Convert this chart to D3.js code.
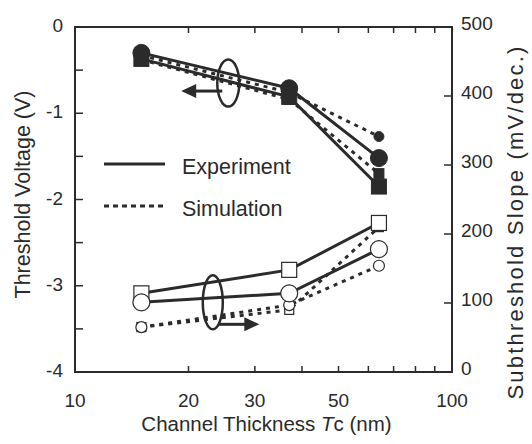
<!DOCTYPE html>
<html><head><meta charset="utf-8">
<script src="https://cdn.jsdelivr.net/npm/d3@7/dist/d3.min.js"></script>
<style>body{margin:0;background:#fff}svg{display:block}text{font-family:"Liberation Sans",Arial,sans-serif;fill:#2a2a2a}</style>
</head><body><div id="chart"></div>
<script>
const thickness = [15, 37, 64];
const vthExpCircle = [-0.30, -0.71, -1.52];
const vthExpSquare = [-0.37, -0.81, -1.85];
const vthSimCircle = [-0.33, -0.76, -1.27];
const vthSimSquare = [-0.38, -0.84, -1.70];
const ssExpSquare = [114, 148, 216];
const ssExpCircle = [101, 114, 178];
const ssSimSquare = [65, 90, 210];
const ssSimCircle = [65, 97, 154];
const xTickLabels = [10, 20, 30, 50, 100];
const xMinorTicks = [20, 30, 40, 50, 60, 70, 80, 90];
const leftTicks = [0, -1, -2, -3, -4];
const leftMinor = [-0.5, -1.5, -2.5, -3.5];
const rightTicks = [0, 100, 200, 300, 400, 500];
const legendItems = ["Experiment", "Simulation"];

const W = 532, H = 444;
const m = {l: 75, r: 80, t: 27, b: 72};
const svg = d3.select("#chart").append("svg").attr("width", W).attr("height", H);
const x = d3.scaleLog().domain([10, 100]).range([m.l, W - m.r]);
const yL = d3.scaleLinear().domain([-4, 0]).range([H - m.b, m.t]);
const yR = d3.scaleLinear().domain([0, 500]).range([H - m.b, m.t]);
const ink = "#2b2b2b";

// frame
svg.append("rect").attr("x", m.l).attr("y", m.t).attr("width", x(100) - m.l).attr("height", yL(-4) - m.t)
  .attr("fill", "none").attr("stroke", ink).attr("stroke-width", 2);

// ticks
const g = svg.append("g").attr("stroke", ink).attr("stroke-width", 1.5);
xMinorTicks.forEach(v => {
  g.append("line").attr("x1", x(v)).attr("x2", x(v)).attr("y1", yL(-4)).attr("y2", yL(-4) - 6);
  g.append("line").attr("x1", x(v)).attr("x2", x(v)).attr("y1", m.t).attr("y2", m.t + 6);
});
leftTicks.concat(leftMinor).forEach(v => {
  g.append("line").attr("x1", m.l).attr("x2", m.l + 8).attr("y1", yL(v)).attr("y2", yL(v));
});
rightTicks.slice(1, 5).forEach(v => {
  g.append("line").attr("x1", x(100)).attr("x2", x(100) - 8).attr("y1", yR(v)).attr("y2", yR(v));
});

// tick labels
xTickLabels.forEach(v => svg.append("text").attr("x", x(v)).attr("y", H - m.b + 35)
  .attr("text-anchor", "middle").attr("font-size", 19).text(v));
leftTicks.forEach(v => svg.append("text").attr("x", m.l - 12).attr("y", yL(v) + 5)
  .attr("text-anchor", "end").attr("font-size", 19).text(v));
rightTicks.forEach(v => svg.append("text").attr("x", x(100) + 9).attr("y", yR(v) + 3)
  .attr("text-anchor", "start").attr("font-size", 19).text(v));

// axis titles
const xt = svg.append("text").attr("x", (m.l + x(100)) / 2 + 3).attr("y", H - 13)
  .attr("text-anchor", "middle").attr("font-size", 20.5);
xt.append("tspan").text("Channel Thickness ");
xt.append("tspan").attr("font-style", "italic").text("T");
xt.append("tspan").text("c  (nm)");
svg.append("text").attr("transform", `translate(30,${(m.t + yL(-4)) / 2 - 5}) rotate(-90)`)
  .attr("text-anchor", "middle").attr("font-size", 21.5).text("Threshold Voltage (V)");
svg.append("text").attr("transform", `translate(523,222) rotate(-90)`)
  .attr("text-anchor", "middle").attr("font-size", 22).attr("letter-spacing", 2.2)
  .text("Subthreshold Slope (mV/dec.)");

// series
function series(vals, ys, dashed) {
  const line = d3.line().x((d, i) => x(thickness[i])).y(d => ys(d));
  svg.append("path").attr("d", line(vals)).attr("fill", "none").attr("stroke", ink)
    .attr("stroke-width", 3).attr("stroke-dasharray", dashed ? "4,5" : null);
}
function circles(vals, ys, r, filled) {
  vals.forEach((v, i) => svg.append("circle").attr("cx", x(thickness[i])).attr("cy", ys(v)).attr("r", r)
    .attr("fill", filled ? ink : "#fff").attr("stroke", ink).attr("stroke-width", filled ? 1 : 1.2));
}
function squares(vals, ys, s, filled) {
  vals.forEach((v, i) => svg.append("rect").attr("x", x(thickness[i]) - s / 2).attr("y", ys(v) - s / 2)
    .attr("width", s).attr("height", s)
    .attr("fill", filled ? ink : "#fff").attr("stroke", ink).attr("stroke-width", filled ? 1 : 1.2));
}
// Vth
series(vthSimSquare, yL, true);
series(vthSimCircle, yL, true);
squares(vthSimSquare, yL, 10, true);
circles(vthSimCircle, yL, 5, true);
series(vthExpSquare, yL, false);
series(vthExpCircle, yL, false);
squares(vthExpSquare, yL, 15, true);
circles(vthExpCircle, yL, 8.5, true);
// SS
series(ssSimSquare, yR, true);
series(ssSimCircle, yR, true);
squares(ssSimSquare, yR, 9, false);
circles(ssSimCircle, yR, 5.5, false);
series(ssExpSquare, yR, false);
series(ssExpCircle, yR, false);
squares(ssExpSquare, yR, 15, false);
circles(ssExpCircle, yR, 8.5, false);

// legend
legendItems.forEach((t, i) => {
  const ly = 164 + i * 42;
  svg.append("line").attr("x1", 104).attr("x2", 165).attr("y1", ly).attr("y2", ly)
    .attr("stroke", ink).attr("stroke-width", 3).attr("stroke-dasharray", i ? "5,4" : null);
  svg.append("text").attr("x", 182).attr("y", ly + 10).attr("font-size", 21.5).text(t);
});

// annotations: ellipses with arrows
const annoVth = {tc: 25.5, v: -0.65, dir: -1};
const annoSS = {tc: 23.2, v: 101, dir: 1};
function anno(cx, cy, rx, ry, dir, ay) {
  svg.append("ellipse").attr("cx", cx).attr("cy", cy).attr("rx", rx).attr("ry", ry)
    .attr("fill", "none").attr("stroke", ink).attr("stroke-width", 2.5);
  const x0 = cx + dir * rx * 0.55, x1 = x0 + dir * 26, tip = x1 + dir * 15;
  svg.append("line").attr("x1", x0).attr("x2", x1 + dir * 2).attr("y1", ay).attr("y2", ay)
    .attr("stroke", ink).attr("stroke-width", 3);
  svg.append("path").attr("d", `M${x1},${ay - 7}L${tip},${ay}L${x1},${ay + 7}Z`).attr("fill", ink);
}
anno(x(annoVth.tc), yL(annoVth.v), 11, 23.5, annoVth.dir, yL(annoVth.v) + 8);
anno(x(annoSS.tc), yR(annoSS.v), 10, 27, annoSS.dir, yR(annoSS.v) + 22);
</script></body></html>
